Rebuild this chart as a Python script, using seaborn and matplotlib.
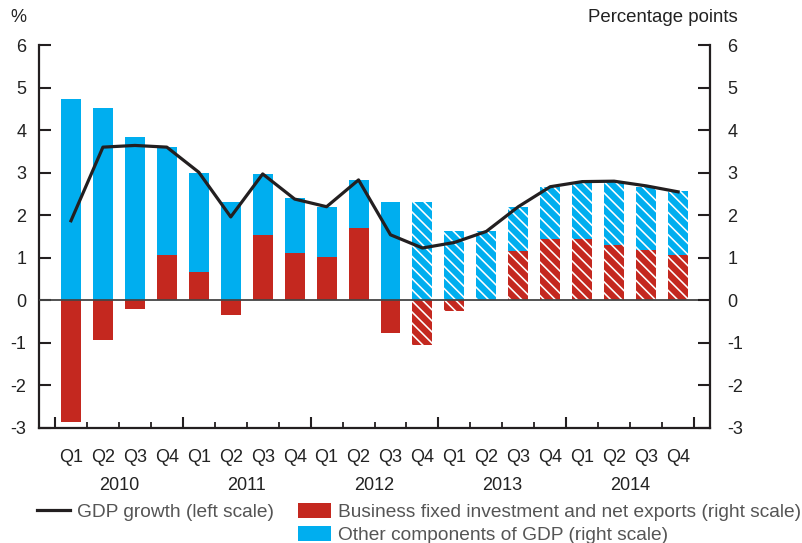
import numpy as np
import pandas as pd
import matplotlib
matplotlib.use('Agg')
import matplotlib.pyplot as plt
from matplotlib.patches import Patch
from matplotlib.lines import Line2D
import seaborn as sns

# Chart data
years = ['2010', '2011', '2012', '2013', '2014']
quarters = ['Q1', 'Q2', 'Q3', 'Q4']
# top of the stacked bar (red + blue where red positive, blue only otherwise)
bar_total = [4.72, 4.51, 3.83, 3.60, 2.99, 2.31, 2.97, 2.41, 2.20, 2.83,
             2.30, 2.30, 1.64, 1.62, 2.20, 2.66, 2.79, 2.80, 2.66, 2.57]
# business fixed investment and net exports
bfi_netexp = [-2.87, -0.93, -0.20, 1.07, 0.66, -0.34, 1.53, 1.12, 1.01, 1.69,
              -0.76, -1.05, -0.26, 0.0, 1.15, 1.45, 1.43, 1.31, 1.18, 1.06]
gdp_growth = [1.87, 3.60, 3.64, 3.60, 3.01, 1.96, 2.97, 2.38, 2.20, 2.83,
              1.54, 1.23, 1.36, 1.62, 2.20, 2.67, 2.79, 2.80, 2.69, 2.55]
first_forecast = 11  # 2012 Q4 onwards hatched

BLUE = '#00AEEF'
RED = '#C4281F'
DARK = '#231F20'
TXT = '#222222'

plt.rcParams['font.family'] = ['Liberation Sans', 'DejaVu Sans']
plt.rcParams['axes.unicode_minus'] = False
plt.rcParams['hatch.linewidth'] = 1.15

labels = [f'{y} {q}' for y in years for q in quarters]
df = pd.DataFrame({'period': labels, 'total': bar_total,
                   'bfi': bfi_netexp, 'gdp': gdp_growth})
df['x'] = np.arange(len(df))

fig = plt.figure(figsize=(8.03, 5.43), dpi=100)
ax = fig.add_axes([0.0486, 0.2118, 0.8356, 0.7053])

sns.barplot(data=df, x='period', y='total', color=BLUE, saturation=1,
            width=0.625, ax=ax, zorder=2)
sns.barplot(data=df, x='period', y='bfi', color=RED, saturation=1,
            width=0.625, ax=ax, zorder=2)
for cont in ax.containers:
    for i, bar in enumerate(cont):
        bar.set_linewidth(0)
        if i >= first_forecast:
            bar.set_hatch('\\\\\\')
            bar.set_edgecolor('white')

ax.axhline(0, color='#444444', lw=1.3, zorder=3)
sns.lineplot(data=df, x='x', y='gdp', color=DARK, lw=2.3, ax=ax, zorder=4)

ax.set_xlim(-1, 20)
ax.set_ylim(-3, 6)
ax.set_xlabel('')
ax.set_ylabel('')

# x tick marks: long at year boundaries, short at quarter boundaries
ax.set_xticks(np.arange(-0.5, 20, 4))
ax.set_xticks(np.arange(-0.5, 20, 1), minor=True)
ax.set_xticklabels([])
ax.tick_params(axis='x', which='major', direction='in', length=8, width=1.5, color=DARK)
ax.tick_params(axis='x', which='minor', direction='in', length=4, width=1.3, color=DARK)

sec_q = ax.secondary_xaxis('bottom')
sec_q.set_xticks(np.arange(20), [q for y in years for q in quarters])
sec_q.tick_params(length=0, pad=15, labelsize=13, labelcolor=TXT)
sec_q.spines['bottom'].set_visible(False)
sec_y = ax.secondary_xaxis('bottom')
sec_y.set_xticks(np.arange(1.5, 20, 4), years)
sec_y.tick_params(length=0, pad=35, labelsize=13, labelcolor=TXT)
sec_y.spines['bottom'].set_visible(False)

yt = np.arange(-3, 7)
ax.set_yticks(yt, [str(v) for v in yt])
ax.tick_params(axis='y', direction='in', length=8.5, width=1.5, color=DARK,
               labelsize=13, labelcolor=TXT, pad=9)

ax2 = ax.twinx()
ax2.set_ylim(-3, 6)
ax2.set_yticks(yt, [str(v) for v in yt])
ax2.tick_params(axis='y', direction='in', length=8.5, width=1.5, color=DARK,
                labelsize=13, labelcolor=TXT, pad=12.5)

for a in (ax, ax2):
    a.spines['top'].set_visible(False)
    for s in ('left', 'right', 'bottom'):
        a.spines[s].set_linewidth(1.6)
        a.spines[s].set_color(DARK)
ax.spines['right'].set_visible(False)
ax2.spines['left'].set_visible(False)
ax2.spines['bottom'].set_visible(False)

fig.text(10 / 803, 1 - 17 / 543, '%', fontsize=13, color=TXT, va='center')
fig.text(738 / 803, 1 - 17 / 543, 'Percentage points', fontsize=13.4,
         color=TXT, va='center', ha='right')

handles = [Line2D([], [], color=DARK, lw=2.3),
           Line2D([], [], linestyle='none'),
           Patch(facecolor=RED),
           Patch(facecolor=BLUE)]
names = ['GDP growth (left scale)', '',
         'Business fixed investment and net exports (right scale)',
         'Other components of GDP (right scale)']
fig.legend(handles, names, ncol=2, loc='upper left',
           bbox_to_anchor=(37 / 803, 1 - 503 / 543), frameon=False,
           fontsize=13.8, labelcolor='#555555', handlelength=1.72,
           handleheight=0.8, handletextpad=0.38, columnspacing=1.25,
           borderpad=0, borderaxespad=0, labelspacing=0.28)

fig.savefig('out.png', dpi=100)
